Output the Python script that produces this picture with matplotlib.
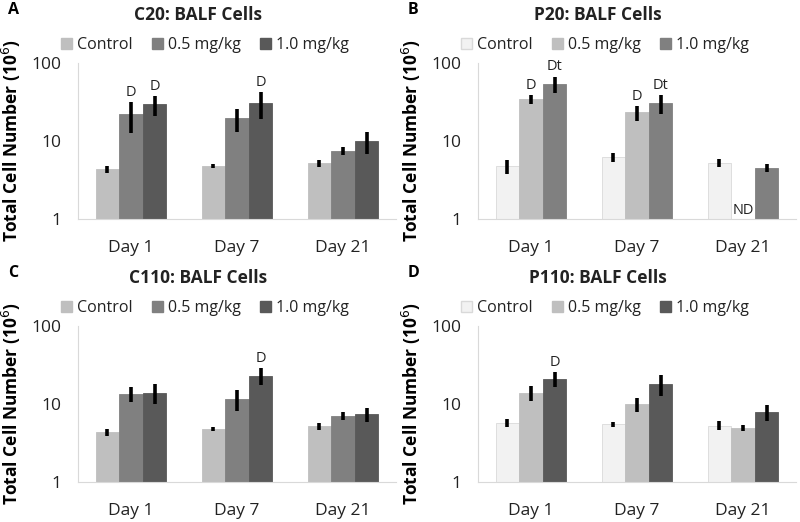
import numpy as np
import matplotlib
matplotlib.use("Agg")
import matplotlib.pyplot as plt
from matplotlib.patches import Patch

plt.rcParams['font.family'] = ['Open Sans', 'DejaVu Sans']

days = ["Day 1", "Day 7", "Day 21"]
groups = ["Control", "0.5 mg/kg", "1.0 mg/kg"]

# medias por grupo (filas: Control, 0.5, 1.0 ; columnas: dias)
c20_mean = [[4.35, 4.8, 5.2], [22.0, 19.5, 7.45], [29.5, 30.5, 10.0]]
c20_err = [[0.45, 0.3, 0.5], [9.5, 6.6, 0.9], [8.6, 11.5, 3.1]]
p20_mean = [[4.75, 6.2, 5.2], [34.5, 23.3, np.nan], [54.0, 30.5, 4.55]]
p20_err = [[0.95, 0.75, 0.6], [4.5, 5.0, np.nan], [13.0, 8.0, 0.5]]
c110_mean = [[4.35, 4.75, 5.2], [13.5, 11.5, 7.1], [14.0, 23.0, 7.4]]
c110_err = [[0.5, 0.3, 0.55], [3.0, 3.4, 0.9], [3.9, 5.6, 1.6]]
p110_mean = [[5.7, 5.5, 5.3], [14.0, 10.0, 4.95], [21.0, 18.0, 7.9]]
p110_err = [[0.7, 0.45, 0.7], [3.2, 2.1, 0.4], [4.4, 5.3, 1.8]]

# letras de significancia: (grupo, dia, texto)
c20_marks = [(1, 0, "D"), (2, 0, "D"), (2, 1, "D")]
p20_marks = [(1, 0, "D"), (2, 0, "Dt"), (1, 1, "D"), (2, 1, "Dt")]
c110_marks = [(2, 1, "D")]
p110_marks = [(2, 0, "D")]

dark = ["#bfbfbf", "#808080", "#595959"]
light = ["#f2f2f2", "#bfbfbf", "#808080"]
mixed = ["#f2f2f2", "#bfbfbf", "#595959"]

panels = [
    ("A", "C20: BALF Cells", c20_mean, c20_err, c20_marks, dark, 0, 0),
    ("B", "P20: BALF Cells", p20_mean, p20_err, p20_marks, light, 400, 0),
    ("C", "C110: BALF Cells", c110_mean, c110_err, c110_marks, dark, 0, 263),
    ("D", "P110: BALF Cells", p110_mean, p110_err, p110_marks, mixed, 400, 263),
]

W, H = 800, 522
fig = plt.figure(figsize=(W / 100, H / 100), dpi=100)

x = np.arange(len(days))
bw = 0.223

for letter, title, mean, err, marks, colors, ox, oy in panels:
    ax = fig.add_axes([(ox + 78) / W, 1 - (oy + 219) / H, 318 / W, 156 / H])
    for i in range(3):
        pos = x + (i - 1) * bw
        ec = "#d9d9d9" if colors[i] == "#f2f2f2" else colors[i]
        ax.bar(pos, mean[i], bw, color=colors[i], edgecolor=ec, linewidth=0.6)
        ax.errorbar(pos, mean[i], yerr=err[i], fmt="none", ecolor="black",
                    elinewidth=2.6, capsize=0)
    for i, d, txt in marks:
        top = mean[i][d] + err[i][d]
        ax.annotate(txt, (x[d] + (i - 1) * bw, top), xytext=(0, 1.5),
                    textcoords="offset points", ha="center", va="bottom",
                    fontsize=10.5, color="#222222")
    if letter == "B":
        ax.annotate("ND", (x[2], 1), xytext=(0, 1), textcoords="offset points",
                    ha="center", va="bottom", fontsize=10.5, color="#222222")

    ax.set_yscale("log")
    ax.set_ylim(1, 100)
    ax.set_xlim(-0.5, 2.5)
    ax.set_yticks([1, 10, 100])
    ax.set_yticklabels(["1", "10", "100"])
    ax.minorticks_off()
    ax.set_xticks(x)
    ax.set_xticklabels(days)
    ax.tick_params(length=0, labelsize=12.5, colors="#222222")
    ax.tick_params(axis="y", pad=12)
    ax.tick_params(axis="x", pad=15)
    for s in ["top", "right"]:
        ax.spines[s].set_visible(False)
    for s in ["left", "bottom"]:
        ax.spines[s].set_color("#d9d9d9")
        ax.spines[s].set_linewidth(0.8)
    ax.set_ylabel("Total Cell Number (10$^6$)", fontsize=12.5, fontweight="bold",
                  labelpad=6)

    fig.text((ox + 8) / W, 1 - (oy + 10) / H, letter, fontsize=11.5,
             fontweight="bold", ha="left", va="center")
    fig.text((ox + 198) / W, 1 - (oy + 15) / H, title, fontsize=12.5,
             fontweight="bold", ha="center", va="center", color="#222222")
    handles = [Patch(facecolor=c, edgecolor=("#d9d9d9" if c == "#f2f2f2" else c))
               for c in colors]
    fig.legend(handles, groups, loc="center", ncol=3,
               bbox_to_anchor=((ox + 205) / W, 1 - (oy + 45) / H),
               frameon=False, fontsize=11.5, handlelength=0.7, handleheight=0.7,
               handletextpad=0.3, columnspacing=1.2, labelcolor="#222222")

fig.savefig("out.png", dpi=100)
